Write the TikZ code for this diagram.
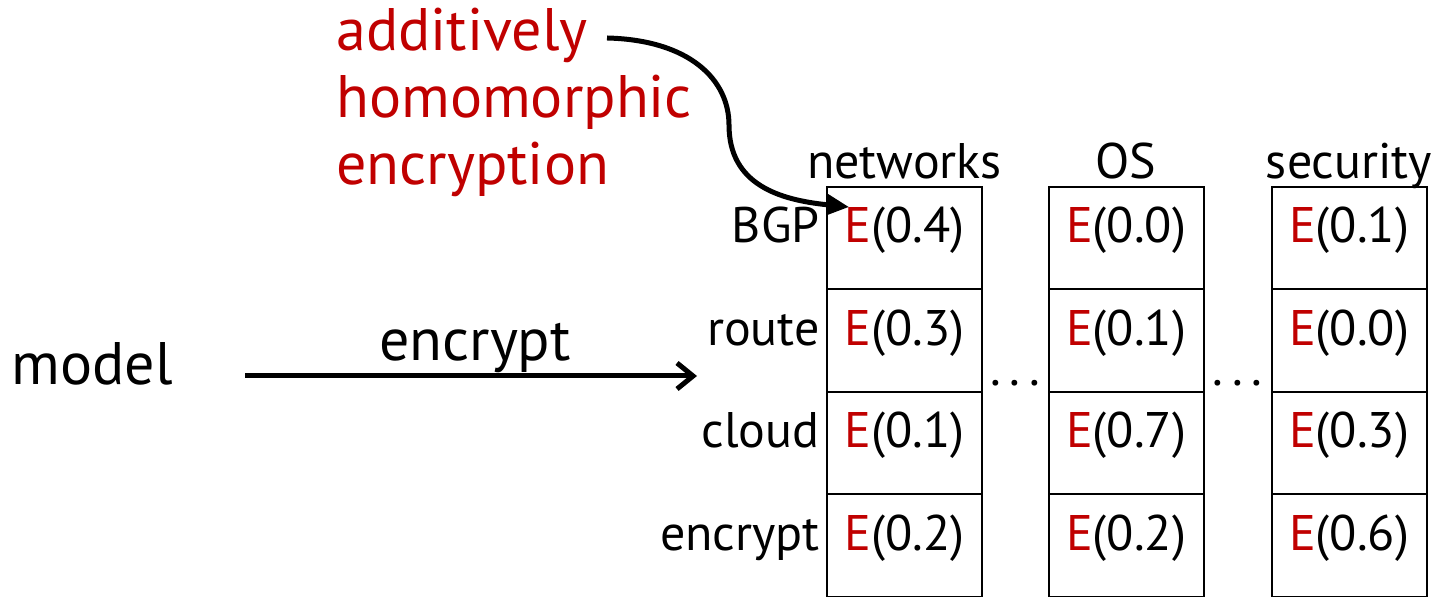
\documentclass[tikz,border=0pt]{standalone}
\usepackage{fontspec}
\setmainfont{PT Sans}
\usetikzlibrary{positioning,arrows.meta,calc}
\definecolor{ered}{RGB}{192,0,0}
\newcommand{\enc}[1]{\textcolor{ered}{E}(#1)}

\begin{document}
\begin{tikzpicture}[
    x=0.5pt, y=-0.5pt,
    font=\fontsize{25}{30}\selectfont,
    cell/.style={
        rectangle,
        draw=black,
        line width=1pt,
        minimum width=77.5pt,
        minimum height=51.25pt,
        inner sep=0pt,
        text height=0.72em,
        text depth=0.25em
    },
    rowlabel/.style={
        inner sep=0pt,
        text height=0.72em,
        text depth=0.25em
    },
    colhead/.style={
        inner sep=0pt,
        text height=0.72em,
        text depth=0.25em
    },
    biglabel/.style={
        inner sep=0pt,
        font=\fontsize{30}{36}\selectfont
    },
    redtext/.style={
        align=left,
        inner sep=0pt,
        text=ered,
        font=\fontsize{30}{33.5}\selectfont
    },
    dots/.style={inner sep=0pt, anchor=base},
    arrow/.style={-{Straight Barb[length=8pt, width=13pt]}, line width=2.5pt},
    curvearrow/.style={-{Triangle[length=11pt, width=10pt]}, line width=2.5pt}
]
\useasboundingbox (0,0) rectangle (1443,597);

% --- Columna networks ---
\node[cell] (net1) at (904.5, 238.25) {\enc{0.4}};
\node[cell] (net2) at (904.5, 340.75) {\enc{0.3}};
\node[cell] (net3) at (904.5, 443.25) {\enc{0.1}};
\node[cell] (net4) at (904.5, 545.75) {\enc{0.2}};

% --- Columna OS ---
\node[cell] (os1) at (1126, 238.25) {\enc{0.0}};
\node[cell] (os2) at (1126, 340.75) {\enc{0.1}};
\node[cell] (os3) at (1126, 443.25) {\enc{0.7}};
\node[cell] (os4) at (1126, 545.75) {\enc{0.2}};

% --- Columna security ---
\node[cell] (sec1) at (1349, 238.25) {\enc{0.1}};
\node[cell] (sec2) at (1349, 340.75) {\enc{0.0}};
\node[cell] (sec3) at (1349, 443.25) {\enc{0.3}};
\node[cell] (sec4) at (1349, 545.75) {\enc{0.6}};

% --- Encabezados ---
\node[colhead, above=1pt of net1] (hnet) {networks};
\node[colhead, above=1pt of os1]  (hos)  {OS};
\node[colhead, above=1pt of sec1] (hsec) {security};

% --- Etiquetas de filas ---
\node[rowlabel, left=3pt of net1] (lbgp)   {BGP};
\node[rowlabel, left=3pt of net2] (lroute) {route};
\node[rowlabel, left=3pt of net3] (lcloud) {cloud};
\node[rowlabel, left=3pt of net4] (lenc)   {encrypt};

% --- Puntos suspensivos ---
\node[dots] (dots1) at ($(net2.south east)!0.5!(os2.south west)+(0,-7)$)
    {.\hspace{4.5pt}.\hspace{4.5pt}.};
\node[dots] (dots2) at ($(os2.south east)!0.5!(sec2.south west)+(0,-7)$)
    {.\hspace{4.5pt}.\hspace{4.5pt}.};

% --- Modelo y cifrado ---
\node[biglabel, anchor=base] (model) at (92, 385) {model};
\coordinate (encstart) at (245, 376);
\coordinate (encend) at (697, 376);
\draw[arrow] (encstart) -- (encend)
    node[biglabel, midway, above=0.5pt, xshift=2pt] {encrypt};

% --- Cifrado homomorfico ---
\node[redtext, anchor=north west] (henc) at (336, 8)
    {additively\\homomorphic\\encryption};
\coordinate (hstart) at (607, 38);
\coordinate (htip) at ([shift={(11.5pt,-10.5pt)}]net1.north west);
\draw[curvearrow] (hstart) .. controls (690, 40) and (729, 80) .. (729, 125)
    .. controls (729, 185) and (780, 200) .. (htip);

\end{tikzpicture}
\end{document}
